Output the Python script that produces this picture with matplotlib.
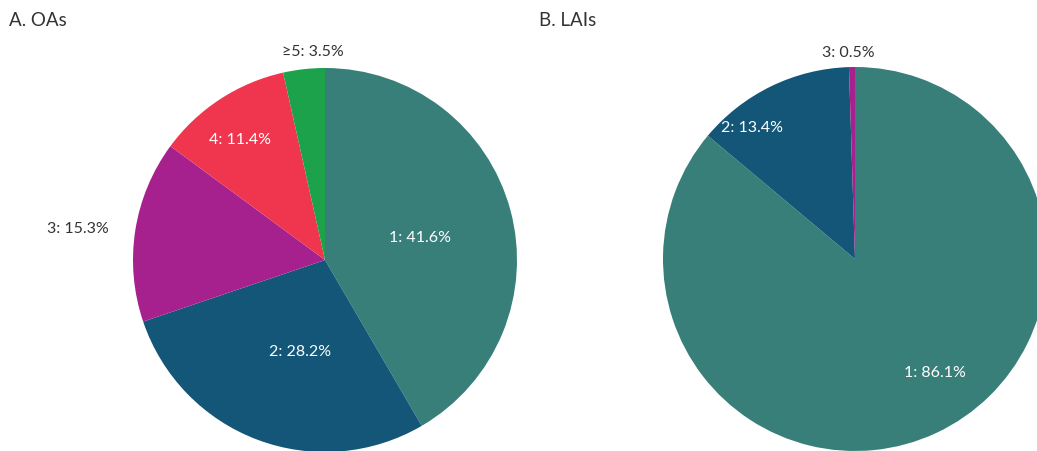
import numpy as np
import matplotlib.pyplot as plt

plt.rcParams['font.family'] = ['Lato', 'DejaVu Sans']

# data
oa_labels = ["1", "2", "3", "4", "\u22655"]
oa_values = [41.6, 28.2, 15.3, 11.4, 3.5]
lai_labels = ["1", "2", "3"]
lai_values = [86.1, 13.4, 0.5]

teal, navy, purple, red, green = "#387f7a", "#135677", "#a6218e", "#ef364e", "#1ca24a"
oa_colors = [teal, navy, purple, red, green]
lai_colors = [teal, navy, purple]

# label placement: (radius fraction, angle shift in degrees, inside?)
oa_place = [(0.51, -1.5, True), (0.49, 5, True), (1.30, 1.5, False), (0.77, 2, True), (1.09, -3, False)]
lai_place = [(0.72, 10.5, True), (0.87, 12, True), (1.08, 1, False)]

W, H = 1037, 452
fig = plt.figure(figsize=(W / 100, H / 100), dpi=100)


def draw_pie(rect, values, labels, colors, place, title, title_x):
    ax = fig.add_axes(rect)
    wedges, _ = ax.pie(values, colors=colors, startangle=90, counterclock=False,
                       wedgeprops=dict(linewidth=0))
    for w in wedges:
        w.set_clip_on(False)
    ax.set_xlim(-1, 1)
    ax.set_ylim(-1, 1)
    ax.set_aspect("equal")
    ax.axis("off")
    for w, lab, val, (r, shift, inside) in zip(wedges, labels, values, place):
        ang = np.deg2rad((w.theta1 + w.theta2) / 2 + shift)
        ax.text(r * np.cos(ang), r * np.sin(ang), f"{lab}: {val}%",
                ha="center", va="center", fontsize=11.5,
                color="white" if inside else "#333333", clip_on=False)
    fig.text(title_x / W, 1 - 20 / H, title, ha="left", va="center",
             fontsize=13.5, color="#333333")


r = 192
draw_pie([(325 - r) / W, (H - 261 - r) / H, 2 * r / W, 2 * r / H],
         oa_values, oa_labels, oa_colors, oa_place, "A. OAs", 9)
draw_pie([(855 - r) / W, (H - 260 - r) / H, 2 * r / W, 2 * r / H],
         lai_values, lai_labels, lai_colors, lai_place, "B. LAIs", 539)

fig.savefig("out.png", dpi=100)
